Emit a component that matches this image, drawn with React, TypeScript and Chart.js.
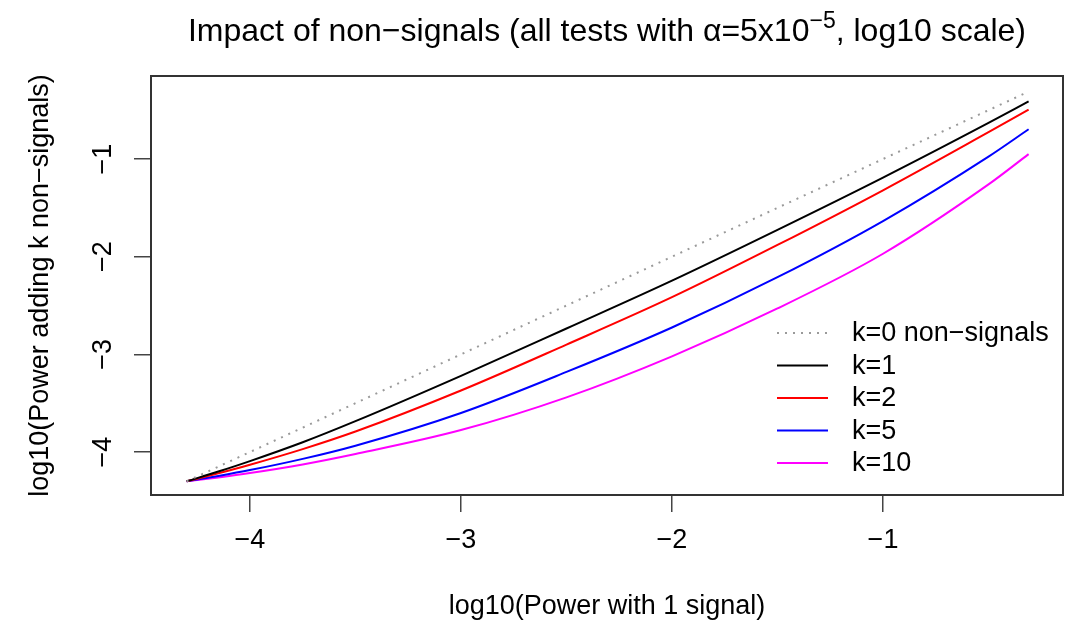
import React, { useEffect, useRef } from "react";
import { Chart, registerables } from "chart.js";

Chart.register(...registerables);

// log10(power with 1 signal)
const xValues = [-4.3, -4.15, -4.0, -3.75, -3.5, -3.0, -2.5, -2.0, -1.5, -1.0, -0.5, -0.31];
// log10(power adding k non-signals)
const k0Values = [-4.3, -4.15, -4.0, -3.75, -3.5, -3.0, -2.5, -2.0, -1.5, -1.0, -0.5, -0.31];
const k1Values = [-4.3, -4.2, -4.093, -3.9, -3.684, -3.22, -2.735, -2.245, -1.725, -1.19, -0.63, -0.41];
const k2Values = [-4.3, -4.218, -4.13, -3.97, -3.79, -3.37, -2.9, -2.415, -1.88, -1.32, -0.725, -0.495];
const k5Values = [-4.3, -4.245, -4.185, -4.07, -3.935, -3.6, -3.18, -2.725, -2.21, -1.635, -0.975, -0.695];
const k10Values = [-4.3, -4.26, -4.215, -4.127, -4.02, -3.775, -3.44, -3.02, -2.53, -1.97, -1.26, -0.95];

const seriesLabels = ["k=0 non\u2212signals", "k=1", "k=2", "k=5", "k=10"];
const seriesColors = ["#9a9a9a", "#000000", "#ff0000", "#0000ff", "#ff00ff"];

const xTickValues = [-4, -3, -2, -1];
const yTickValues = [-4, -3, -2, -1];

const titleMain = "Impact of non\u2212signals (all tests with \u03b1=5x10";
const titleSup = "\u22125";
const titleEnd = ", log10 scale)";
const xAxisTitle = "log10(Power with 1 signal)";
const yAxisTitle = "log10(Power adding k non\u2212signals)";

const FONT = '"Liberation Sans", Arial, Helvetica, sans-serif';

const fmt = (v: number) => String(v).replace("-", "\u2212");

const titlePlugin = {
  id: "rTitle",
  afterDraw(chart: any) {
    const ctx = chart.ctx as CanvasRenderingContext2D;
    const ca = chart.chartArea;
    const mainFont = `32px ${FONT}`;
    const supFont = `23px ${FONT}`;
    const parts: [string, string, number][] = [
      [titleMain, mainFont, 0],
      [titleSup, supFont, -13],
      [titleEnd, mainFont, 0],
    ];
    ctx.save();
    ctx.fillStyle = "#000";
    ctx.textBaseline = "alphabetic";
    ctx.textAlign = "left";
    let total = 0;
    const widths = parts.map(([t, f]) => {
      ctx.font = f;
      const w = ctx.measureText(t).width;
      total += w;
      return w;
    });
    let x = (ca.left + ca.right) / 2 - total / 2;
    const baseY = 41;
    parts.forEach(([t, f, dy], i) => {
      ctx.font = f;
      ctx.fillText(t, x, baseY + dy);
      x += widths[i];
    });
    ctx.restore();
  },
};

const boxPlugin = {
  id: "rBox",
  afterDraw(chart: any) {
    const ctx = chart.ctx as CanvasRenderingContext2D;
    const ca = chart.chartArea;
    ctx.save();
    ctx.strokeStyle = "#333";
    ctx.lineWidth = 2;
    ctx.strokeRect(ca.left, ca.top, ca.right - ca.left, ca.bottom - ca.top);
    ctx.restore();
  },
};

const legendPlugin = {
  id: "rLegend",
  afterDatasetsDraw(chart: any) {
    const ctx = chart.ctx as CanvasRenderingContext2D;
    const ca = chart.chartArea;
    const ds = chart.data.datasets;
    ctx.save();
    ctx.font = `27px ${FONT}`;
    ctx.textBaseline = "middle";
    ctx.textAlign = "left";
    ds.forEach((d: any, i: number) => {
      const y = ca.bottom - 162 + i * 32.5;
      ctx.strokeStyle = d.borderColor;
      ctx.lineWidth = d.borderWidth;
      ctx.setLineDash(d.borderDash || []);
      ctx.beginPath();
      ctx.moveTo(ca.right - 286, y);
      ctx.lineTo(ca.right - 235, y);
      ctx.stroke();
      ctx.setLineDash([]);
      ctx.fillStyle = "#000";
      ctx.fillText(d.label, ca.right - 211, y + 1);
    });
    ctx.restore();
  },
};

export default function App() {
  const ref = useRef<HTMLCanvasElement | null>(null);
  useEffect(() => {
    if (!ref.current) return;
    const series = [k0Values, k1Values, k2Values, k5Values, k10Values];
    const datasets = series.map((vals, i) => ({
      label: seriesLabels[i],
      data: xValues.map((x, j) => ({ x, y: vals[j] })),
      borderColor: seriesColors[i],
      backgroundColor: seriesColors[i],
      borderWidth: 2,
      borderDash: i === 0 ? [2, 6] : [],
      pointRadius: 0,
      cubicInterpolationMode: "monotone" as const,
      fill: false,
    }));
    const chart = new Chart(ref.current, {
      type: "line",
      data: { datasets },
      options: {
        responsive: false,
        animation: false,
        devicePixelRatio: 1,
        layout: { padding: { left: 0, right: 16, top: 76, bottom: 0 } },
        plugins: {
          legend: { display: false },
          tooltip: { enabled: false },
          title: { display: false },
        },
        scales: {
          x: {
            type: "linear",
            min: -4.469,
            max: -0.147,
            afterBuildTicks: (s: any) => {
              s.ticks = xTickValues.map((v) => ({ value: v }));
            },
            afterFit: (s: any) => {
              s.height = 132;
            },
            border: { display: false },
            grid: {
              display: true,
              drawOnChartArea: false,
              drawTicks: true,
              tickLength: 17,
              color: "#444",
              lineWidth: 1.5,
            },
            ticks: {
              color: "#000",
              font: { family: FONT, size: 27 },
              padding: 12,
              maxRotation: 0,
              minRotation: 0,
              callback: (v: any) => fmt(Number(v)),
            },
            title: {
              display: true,
              text: xAxisTitle,
              color: "#000",
              font: { family: FONT, size: 27 },
              padding: { top: 0, bottom: 4 },
            },
          },
          y: {
            type: "linear",
            min: -4.44,
            max: -0.15,
            afterBuildTicks: (s: any) => {
              s.ticks = yTickValues.map((v) => ({ value: v }));
            },
            afterFit: (s: any) => {
              s.width = 151;
            },
            border: { display: false },
            grid: {
              display: true,
              drawOnChartArea: false,
              drawTicks: true,
              tickLength: 17,
              color: "#444",
              lineWidth: 1.5,
            },
            ticks: {
              color: "#000",
              font: { family: FONT, size: 27 },
              padding: 15,
              minRotation: 90,
              maxRotation: 90,
              crossAlign: "center",
              callback: (v: any) => fmt(Number(v)),
            },
            title: {
              display: true,
              text: yAxisTitle,
              color: "#000",
              font: { family: FONT, size: 27 },
              padding: { top: 24, bottom: 0 },
            },
          },
        },
      },
      plugins: [titlePlugin, boxPlugin, legendPlugin],
    });
    return () => chart.destroy();
  }, []);
  return (
    <div style={{ position: "fixed", left: 0, top: 0, width: 1079, height: 627, background: "#fff" }}>
      <canvas ref={ref} width={1079} height={627} style={{ width: 1079, height: 627 }} />
    </div>
  );
}
